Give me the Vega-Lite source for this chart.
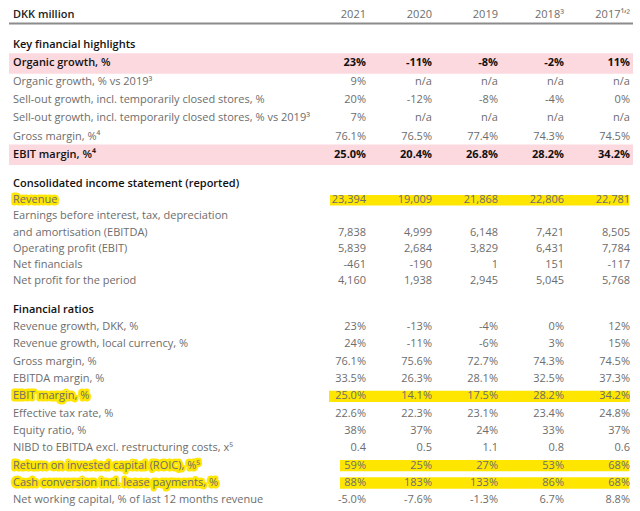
{
  "$schema": "https://vega.github.io/schema/vega-lite/v6.json",
  "padding": {"left": 8, "right": 8, "top": 0, "bottom": 0},
  "bounds": "flush",
  "spacing": 12,
  "background": "white",
  "config": {"view": {"stroke": null}, "text": {"font": "Open Sans", "fontSize": 11}},
  "datasets": {
    "cols": [
      {"key": "2021", "col": 1},
      {"key": "2020", "col": 2},
      {"key": "2019", "col": 3},
      {"key": "2018", "col": 4},
      {"key": "2017", "col": 5}
    ],
    "rows": [
      {"sec": "A", "r": 0, "label": "DKK million", "kind": "head", "2021": "2021", "2020": "2020", "2019": "2019", "2018": "2018³", "2017": "2017¹ʼ²"},

      {"sec": "B", "r": 0, "label": "Key financial highlights", "kind": "title"},
      {"sec": "B", "r": 1, "label": "Organic growth, %", "kind": "pink", "2021": "23%", "2020": "-11%", "2019": "-8%", "2018": "-2%", "2017": "11%"},
      {"sec": "B", "r": 2, "label": "Organic growth, % vs 2019³", "kind": "normal", "2021": "9%", "2020": "n/a", "2019": "n/a", "2018": "n/a", "2017": "n/a"},
      {"sec": "B", "r": 3, "label": "Sell-out growth, incl. temporarily closed stores, %", "kind": "normal", "2021": "20%", "2020": "-12%", "2019": "-8%", "2018": "-4%", "2017": "0%"},
      {"sec": "B", "r": 4, "label": "Sell-out growth, incl. temporarily closed stores, % vs 2019³", "kind": "normal", "2021": "7%", "2020": "n/a", "2019": "n/a", "2018": "n/a", "2017": "n/a"},
      {"sec": "B", "r": 5, "label": "Gross margin, %⁴", "kind": "normal", "2021": "76.1%", "2020": "76.5%", "2019": "77.4%", "2018": "74.3%", "2017": "74.5%"},
      {"sec": "B", "r": 6, "label": "EBIT margin, %⁴", "kind": "pink", "2021": "25.0%", "2020": "20.4%", "2019": "26.8%", "2018": "28.2%", "2017": "34.2%"},

      {"sec": "C", "r": 0, "label": "Consolidated income statement (reported)", "kind": "title"},
      {"sec": "C", "r": 1, "label": "Revenue", "kind": "normal", "lhl": true, "hl": "wide", "2021": "23,394", "2020": "19,009", "2019": "21,868", "2018": "22,806", "2017": "22,781"},
      {"sec": "C", "r": 2, "label": "Earnings before interest, tax, depreciation", "kind": "normal"},
      {"sec": "C", "r": 3, "label": "and amortisation (EBITDA)", "kind": "normal", "2021": "7,838", "2020": "4,999", "2019": "6,148", "2018": "7,421", "2017": "8,505"},
      {"sec": "C", "r": 4, "label": "Operating profit (EBIT)", "kind": "normal", "2021": "5,839", "2020": "2,684", "2019": "3,829", "2018": "6,431", "2017": "7,784"},
      {"sec": "C", "r": 5, "label": "Net financials", "kind": "normal", "2021": "-461", "2020": "-190", "2019": "1", "2018": "151", "2017": "-117"},
      {"sec": "C", "r": 6, "label": "Net profit for the period", "kind": "normal", "2021": "4,160", "2020": "1,938", "2019": "2,945", "2018": "5,045", "2017": "5,768"},

      {"sec": "D", "r": 0, "label": "Financial ratios", "kind": "title"},
      {"sec": "D", "r": 1, "label": "Revenue growth, DKK, %", "kind": "normal", "2021": "23%", "2020": "-13%", "2019": "-4%", "2018": "0%", "2017": "12%"},
      {"sec": "D", "r": 2, "label": "Revenue growth, local currency, %", "kind": "normal", "2021": "24%", "2020": "-11%", "2019": "-6%", "2018": "3%", "2017": "15%"},
      {"sec": "D", "r": 3, "label": "Gross margin, %", "kind": "normal", "2021": "76.1%", "2020": "75.6%", "2019": "72.7%", "2018": "74.3%", "2017": "74.5%"},
      {"sec": "D", "r": 4, "label": "EBITDA margin, %", "kind": "normal", "2021": "33.5%", "2020": "26.3%", "2019": "28.1%", "2018": "32.5%", "2017": "37.3%"},
      {"sec": "D", "r": 5, "label": "EBIT margin, %", "kind": "normal", "lhl": true, "hl": "wide", "2021": "25.0%", "2020": "14.1%", "2019": "17.5%", "2018": "28.2%", "2017": "34.2%"},
      {"sec": "D", "r": 6, "label": "Effective tax rate, %", "kind": "normal", "2021": "22.6%", "2020": "22.3%", "2019": "23.1%", "2018": "23.4%", "2017": "24.8%"},
      {"sec": "D", "r": 7, "label": "Equity ratio, %", "kind": "normal", "2021": "38%", "2020": "37%", "2019": "24%", "2018": "33%", "2017": "37%"},
      {"sec": "D", "r": 8, "label": "NIBD to EBITDA excl. restructuring costs, x⁵", "kind": "normal", "2021": "0.4", "2020": "0.5", "2019": "1.1", "2018": "0.8", "2017": "0.6"},
      {"sec": "D", "r": 9, "label": "Return on invested capital (ROIC), %⁵", "kind": "normal", "lhl": true, "hl": "narrow", "2021": "59%", "2020": "25%", "2019": "27%", "2018": "53%", "2017": "68%"},
      {"sec": "D", "r": 10, "label": "Cash conversion incl. lease payments, %", "kind": "normal", "lhl": true, "hl": "narrow", "2021": "88%", "2020": "183%", "2019": "133%", "2018": "86%", "2017": "68%"},
      {"sec": "D", "r": 11, "label": "Net working capital, % of last 12 months revenue", "kind": "normal", "2021": "-5.0%", "2020": "-7.6%", "2019": "-1.3%", "2018": "6.7%", "2017": "8.8%"}
    ]
  },
  "vconcat": [
    {
      "width": 624, "height": 24,
      "data": {"name": "rows"},
      "transform": [{"filter": "datum.sec == 'A'"}],
      "encoding": {"y": {"field": "r", "type": "ordinal", "axis": null, "scale": {"paddingInner": 0, "paddingOuter": 0}}},
      "layer": [
        {
          "mark": {"type": "rule", "color": "#8c8c8c", "strokeWidth": 2, "xOffset": -4, "x2Offset": 3, "yOffset": -0.5},
          "encoding": {
            "x": {"datum": 0, "type": "quantitative", "scale": {"domain": [0, 1, 5], "range": [4, 357, 621]}, "axis": null},
            "x2": {"datum": 5},
            "y": {"field": "r", "type": "ordinal", "bandPosition": 1, "axis": null}
          }
        },
        {
          "mark": {"type": "text", "align": "left", "dy": 3, "fontWeight": 600, "color": "#222222"},
          "encoding": {
            "x": {"datum": 0, "type": "quantitative", "scale": {"domain": [0, 1, 5], "range": [4, 357, 621]}, "axis": null},
            "text": {"field": "label"}
          }
        },
        {
          "transform": [
            {"fold": ["2021", "2020", "2019", "2018", "2017"], "as": ["key", "v"]},
            {"lookup": "key", "from": {"data": {"name": "cols"}, "key": "key", "fields": ["col"]}}
          ],
          "mark": {"type": "text", "align": "right", "dy": 3, "color": "#6d6d6d"},
          "encoding": {
            "x": {"field": "col", "type": "quantitative", "scale": {"domain": [0, 1, 5], "range": [4, 357, 621]}, "axis": null},
            "text": {"field": "v"}
          }
        }
      ]
    },
    {
      "width": 624, "height": 128,
      "data": {"name": "rows"},
      "transform": [{"filter": "datum.sec == 'B'"}],
      "encoding": {"y": {"field": "r", "type": "ordinal", "axis": null, "scale": {"paddingInner": 0, "paddingOuter": 0}}},
      "layer": [
        {
          "transform": [{"filter": "datum.kind == 'pink'"}],
          "mark": {"type": "rect", "color": "#fcd9df", "height": {"band": 1.12}, "xOffset": -4, "x2Offset": 3},
          "encoding": {
            "x": {"datum": 0, "type": "quantitative", "scale": {"domain": [0, 1, 5], "range": [4, 357, 621]}, "axis": null},
            "x2": {"datum": 5}
          }
        },
        {
          "transform": [{"filter": "datum.kind != 'normal'"}],
          "mark": {"type": "text", "align": "left", "fontWeight": 600, "color": "#111111"},
          "encoding": {
            "x": {"datum": 0, "type": "quantitative", "scale": {"domain": [0, 1, 5], "range": [4, 357, 621]}, "axis": null},
            "text": {"field": "label"}
          }
        },
        {
          "transform": [{"filter": "datum.kind == 'normal'"}],
          "mark": {"type": "text", "align": "left", "color": "#6d6d6d"},
          "encoding": {
            "x": {"datum": 0, "type": "quantitative", "scale": {"domain": [0, 1, 5], "range": [4, 357, 621]}, "axis": null},
            "text": {"field": "label"}
          }
        },
        {
          "transform": [
            {"filter": "datum.kind == 'normal'"},
            {"fold": ["2021", "2020", "2019", "2018", "2017"], "as": ["key", "v"]},
            {"filter": "isValid(datum.v)"},
            {"lookup": "key", "from": {"data": {"name": "cols"}, "key": "key", "fields": ["col"]}}
          ],
          "mark": {"type": "text", "align": "right", "color": "#6d6d6d"},
          "encoding": {
            "x": {"field": "col", "type": "quantitative", "scale": {"domain": [0, 1, 5], "range": [4, 357, 621]}, "axis": null},
            "text": {"field": "v"}
          }
        },
        {
          "transform": [
            {"filter": "datum.kind == 'pink'"},
            {"fold": ["2021", "2020", "2019", "2018", "2017"], "as": ["key", "v"]},
            {"filter": "isValid(datum.v)"},
            {"lookup": "key", "from": {"data": {"name": "cols"}, "key": "key", "fields": ["col"]}}
          ],
          "mark": {"type": "text", "align": "right", "fontWeight": "bold", "color": "#111111"},
          "encoding": {
            "x": {"field": "col", "type": "quantitative", "scale": {"domain": [0, 1, 5], "range": [4, 357, 621]}, "axis": null},
            "text": {"field": "v"}
          }
        }
      ]
    },
    {
      "width": 624, "height": 113,
      "data": {"name": "rows"},
      "transform": [{"filter": "datum.sec == 'C'"}],
      "encoding": {"y": {"field": "r", "type": "ordinal", "axis": null, "scale": {"paddingInner": 0, "paddingOuter": 0}}},
      "layer": [
        {
          "transform": [{"filter": "datum.hl == 'wide'"}],
          "mark": {"type": "rect", "color": "#ffe600", "height": {"band": 0.65}, "xOffset": -36, "x2Offset": -1},
          "encoding": {
            "x": {"datum": 1, "type": "quantitative", "scale": {"domain": [0, 1, 5], "range": [4, 357, 621]}, "axis": null},
            "x2": {"datum": 5}
          }
        },
        {
          "transform": [{"filter": "datum.lhl == true"}],
          "mark": {"type": "text", "align": "left", "fill": "#ffe600", "stroke": "#ffe600", "strokeWidth": 5, "strokeJoin": "round"},
          "encoding": {
            "x": {"datum": 0, "type": "quantitative", "scale": {"domain": [0, 1, 5], "range": [4, 357, 621]}, "axis": null},
            "text": {"field": "label"}
          }
        },
        {
          "transform": [{"filter": "datum.kind != 'normal'"}],
          "mark": {"type": "text", "align": "left", "fontWeight": 600, "color": "#111111"},
          "encoding": {
            "x": {"datum": 0, "type": "quantitative", "scale": {"domain": [0, 1, 5], "range": [4, 357, 621]}, "axis": null},
            "text": {"field": "label"}
          }
        },
        {
          "transform": [{"filter": "datum.kind == 'normal'"}],
          "mark": {"type": "text", "align": "left", "color": "#6d6d6d"},
          "encoding": {
            "x": {"datum": 0, "type": "quantitative", "scale": {"domain": [0, 1, 5], "range": [4, 357, 621]}, "axis": null},
            "text": {"field": "label"}
          }
        },
        {
          "transform": [
            {"fold": ["2021", "2020", "2019", "2018", "2017"], "as": ["key", "v"]},
            {"filter": "isValid(datum.v)"},
            {"lookup": "key", "from": {"data": {"name": "cols"}, "key": "key", "fields": ["col"]}}
          ],
          "mark": {"type": "text", "align": "right", "color": "#6d6d6d"},
          "encoding": {
            "x": {"field": "col", "type": "quantitative", "scale": {"domain": [0, 1, 5], "range": [4, 357, 621]}, "axis": null},
            "text": {"field": "v"}
          }
        }
      ]
    },
    {
      "width": 624, "height": 208,
      "data": {"name": "rows"},
      "transform": [{"filter": "datum.sec == 'D'"}],
      "encoding": {"y": {"field": "r", "type": "ordinal", "axis": null, "scale": {"paddingInner": 0, "paddingOuter": 0}}},
      "layer": [
        {
          "transform": [{"filter": "datum.hl == 'wide'"}],
          "mark": {"type": "rect", "color": "#ffe600", "height": {"band": 0.65}, "xOffset": -37, "x2Offset": 0},
          "encoding": {
            "x": {"datum": 1, "type": "quantitative", "scale": {"domain": [0, 1, 5], "range": [4, 357, 621]}, "axis": null},
            "x2": {"datum": 5}
          }
        },
        {
          "transform": [{"filter": "datum.hl == 'narrow'"}],
          "mark": {"type": "rect", "color": "#ffe600", "height": {"band": 0.65}, "xOffset": -26, "x2Offset": -1},
          "encoding": {
            "x": {"datum": 1, "type": "quantitative", "scale": {"domain": [0, 1, 5], "range": [4, 357, 621]}, "axis": null},
            "x2": {"datum": 5}
          }
        },
        {
          "transform": [{"filter": "datum.lhl == true"}],
          "mark": {"type": "text", "align": "left", "fill": "#ffe600", "stroke": "#ffe600", "strokeWidth": 5, "strokeJoin": "round"},
          "encoding": {
            "x": {"datum": 0, "type": "quantitative", "scale": {"domain": [0, 1, 5], "range": [4, 357, 621]}, "axis": null},
            "text": {"field": "label"}
          }
        },
        {
          "transform": [{"filter": "datum.kind != 'normal'"}],
          "mark": {"type": "text", "align": "left", "fontWeight": 600, "color": "#111111"},
          "encoding": {
            "x": {"datum": 0, "type": "quantitative", "scale": {"domain": [0, 1, 5], "range": [4, 357, 621]}, "axis": null},
            "text": {"field": "label"}
          }
        },
        {
          "transform": [{"filter": "datum.kind == 'normal'"}],
          "mark": {"type": "text", "align": "left", "color": "#6d6d6d"},
          "encoding": {
            "x": {"datum": 0, "type": "quantitative", "scale": {"domain": [0, 1, 5], "range": [4, 357, 621]}, "axis": null},
            "text": {"field": "label"}
          }
        },
        {
          "transform": [
            {"fold": ["2021", "2020", "2019", "2018", "2017"], "as": ["key", "v"]},
            {"filter": "isValid(datum.v)"},
            {"lookup": "key", "from": {"data": {"name": "cols"}, "key": "key", "fields": ["col"]}}
          ],
          "mark": {"type": "text", "align": "right", "color": "#6d6d6d"},
          "encoding": {
            "x": {"field": "col", "type": "quantitative", "scale": {"domain": [0, 1, 5], "range": [4, 357, 621]}, "axis": null},
            "text": {"field": "v"}
          }
        }
      ]
    }
  ]
}
